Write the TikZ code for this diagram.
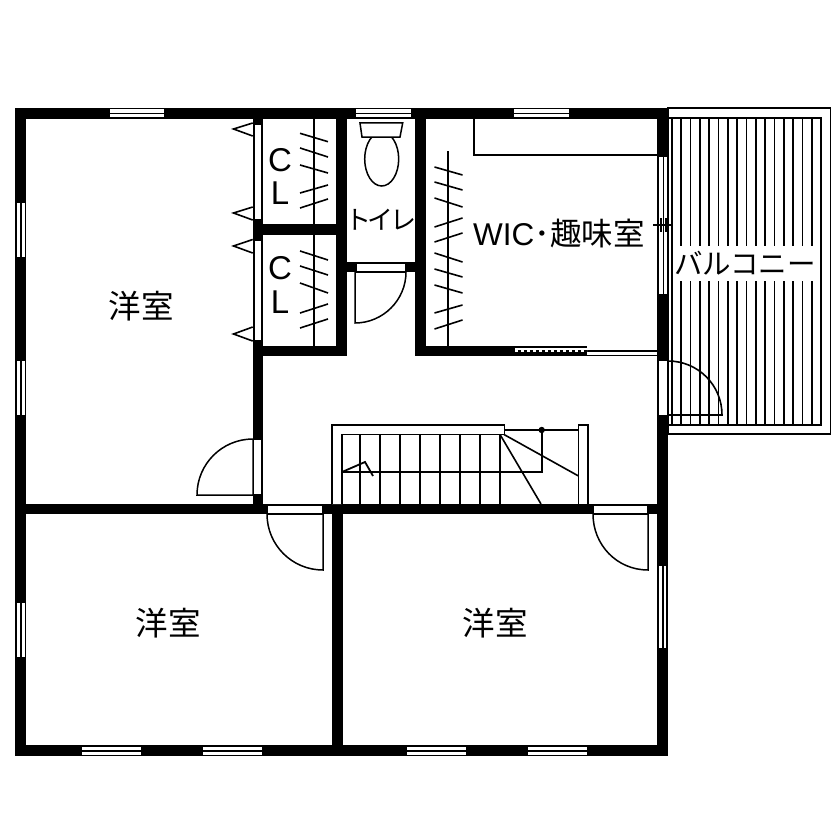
\documentclass[tikz,border=0pt]{standalone}
\usepackage{fontspec}
\setmainfont{Liberation Sans}
\newfontfamily\jpfont{Noto Sans CJK JP}
\tikzset{
  wall/.style={fill=black,draw=none},
  thin line/.style={draw=black,line width=1.6pt},
  leaf/.style={draw=black,line width=1.5pt,fill=white},
  opening/.style={fill=white,draw=black,line width=1.2pt},
  pane/.style={fill=white,draw=none},
  label/.style={inner sep=0pt,font=\jpfont\fontsize{32.5}{32.5}\selectfont},
  latin/.style={inner sep=0pt,font=\fontsize{33}{33}\selectfont},
}
\begin{document}
\begin{tikzpicture}[x=1pt,y=-1pt]
\useasboundingbox (0,0) rectangle (840,840);
\fill[white] (0,0) rectangle (840,840);

% Balcony
\draw[thin line,fill=white] (668,108) rectangle (830.5,434);
\draw[thin line] (668,118) -- (820.7,118) -- (820.7,425) -- (668,425);
\draw[line width=1.7pt] (672,118) -- (672,425);
\foreach \i in {1,...,15}{
  \pgfmathsetmacro{\xx}{672+\i*9.31}
  \draw[line width=1.7pt] (\xx,118) -- (\xx,246);
  \draw[line width=1.7pt] (\xx,281) -- (\xx,425);
}

% Walls
\fill[wall] (15,108) rectangle (668,119);
\fill[wall] (15,108) rectangle (26,756);
\fill[wall] (15,745) rectangle (668,756);
\fill[wall] (657,108) rectangle (668,756);
\fill[wall] (15,504) rectangle (657,514);
\fill[wall] (253,108) rectangle (263,504);
\fill[wall] (332,504) rectangle (343,756);
\fill[wall] (253,224) rectangle (337,235);
\fill[wall] (336,108) rectangle (347,356);
\fill[wall] (253,346) rectangle (347,356);
\fill[wall] (415,108) rectangle (426,356);
\fill[wall] (415,346) rectangle (587,356);
\fill[wall] (347,262) rectangle (415,272);

% Horizontal windows
\foreach \a/\b/\y in {110/164/109.5,356/411/109.5,514/569/109.5,82/141/747,203/262/747,407/466/747,528/587/747}{
  \fill[pane] (\a,\y) rectangle (\b,\y+3.2);
  \fill[pane] (\a,\y+5) rectangle (\b,\y+7.8);
}
% Vertical windows
\foreach \a/\b/\x in {203/257/17,361/415/17,603/657/17,566/648/658.5}{
  \fill[pane] (\x,\a) rectangle (\x+3.2,\b);
  \fill[pane] (\x+5,\a) rectangle (\x+7.8,\b);
}

% East sliding window
\fill[pane] (658,156) rectangle (668,294);
\draw[thin line] (658,156) -- (658,294) (663.5,156) -- (663.5,294) (668,156) -- (668,294) (658,156) -- (668,156);
\draw[thin line] (653,225) -- (671,225) (661,218) -- (661,232) (666,218) -- (666,232);

% WIC shelf
\draw[thin line] (474,119) -- (474,155) -- (657,155);

% WIC sliding door
\fill[pane] (515,347.5) rectangle (657,352);
\fill[pane] (587,352) rectangle (657,355);
\fill[black] (515,349.5) rectangle (657,351.5);
\draw[white,line width=2pt,dash pattern=on 3pt off 3pt] (515,350.5) -- (587,350.5);
\draw[line width=1.5pt] (587,355.7) -- (657,355.7);

% Doors
\fill[pane] (254,440) rectangle (262,494);
\draw[leaf] (253,495) -- (197,495) .. controls (197,464) and (222,439) .. (253,439) -- cycle;
\draw[thin line] (262,440) -- (262,494);

\draw[opening] (267,505) rectangle (323,513.5);
\draw[leaf] (323,514) -- (323,570) .. controls (292,570) and (267,545) .. (267,514) -- cycle;

\draw[opening] (593,505) rectangle (648,513.5);
\draw[leaf] (648,514) -- (648,570) .. controls (617,570) and (593,545) .. (593,514) -- cycle;

\draw[opening] (356,263) rectangle (406,271.5);
\draw[leaf] (355,272) -- (355,323) .. controls (383,323) and (406,300) .. (406,272) -- cycle;

% East door on the balcony
\fill[pane] (658,361) rectangle (668,415);
\draw[thin line] (658,361) -- (658,415) (668,361) -- (668,415);
\draw[thin line] (668,415) -- (722,415) .. controls (722,385) and (698,361) .. (668,361);

% Closet doors
\draw[opening] (254,124) rectangle (262,220);
\draw[opening] (254,240) rectangle (262,341);
\foreach \p/\q/\r in {123/129/136,207/213/220,239.5/246/253,327/334/341}{
  \draw[thin line,fill=white] (252.7,\p) -- (233.5,\q) -- (252.7,\r);
}

% Hanging poles
\draw[thin line] (314,119) -- (314,346);
\draw[thin line] (448,151) -- (448,346);
\foreach \l/\r in {133.3/141.7,148/157,165/173,193/185,208/199,251/260,266/275,283/293,313/304,328/319}{
  \draw[thin line] (300,\l) -- (328,\r);
}
\foreach \l/\r in {167/175,182/190,198/207,227/218,242/233,253/262,269/277,285/293,313/305,329/320}{
  \draw[thin line] (434.5,\l) -- (462.5,\r);
}

% Toilet
\draw[leaf] (381.7,159) ellipse [x radius=17,y radius=27];
\draw[leaf] (360,123) -- (402.7,123) -- (400,137) -- (362,137) -- cycle;

% Stairs
\draw[thin line,fill=white] (332,504) -- (332,425) -- (504.5,425) -- (504.5,434.5) -- (341.7,434.5) -- (341.7,504);
\foreach \x in {360,380,400,420,440,460,480,500}{
  \draw[thin line] (\x,434.5) -- (\x,504);
}
\draw[thin line] (341.7,472) -- (541.7,472) -- (541.7,430);
\draw[thin line] (504.5,430) -- (578.5,430);
\fill[black] (541.7,430) circle (3.2);
\draw[thin line,fill=white] (578.5,504) -- (578.5,425) -- (588,425) -- (588,504);
\draw[thin line] (500,434.5) -- (541,504);
\draw[thin line] (504,434.5) -- (578.5,476);
\draw[line width=1.8pt] (342,472) -- (365,462) -- (373,476);

% Labels
\node[label] (room1) at (141,306) {洋室};
\node[label] (room2) at (168,623) {洋室};
\node[label] (room3) at (495,623) {洋室};
\node[latin] (c1) at (280,160) {C};
\node[latin] (l1) at (280,193) {L};
\node[latin] (c2) at (280,268) {C};
\node[latin] (l2) at (280,302) {L};
\node[inner sep=0pt,font=\jpfont\fontsize{26}{26}\selectfont] (wc) at (380.5,220) {ト\hspace{-3.5pt}イ\hspace{-3.5pt}レ};
\node[inner sep=0pt,anchor=west] (wic) at (473,234) {\fontsize{31.5}{31.5}\selectfont WIC{\jpfont ･趣味室}};
\node[inner sep=0pt,font=\jpfont\fontsize{28.5}{28.5}\selectfont] (bal) at (745,263) {バルコニー};
\end{tikzpicture}
\end{document}
